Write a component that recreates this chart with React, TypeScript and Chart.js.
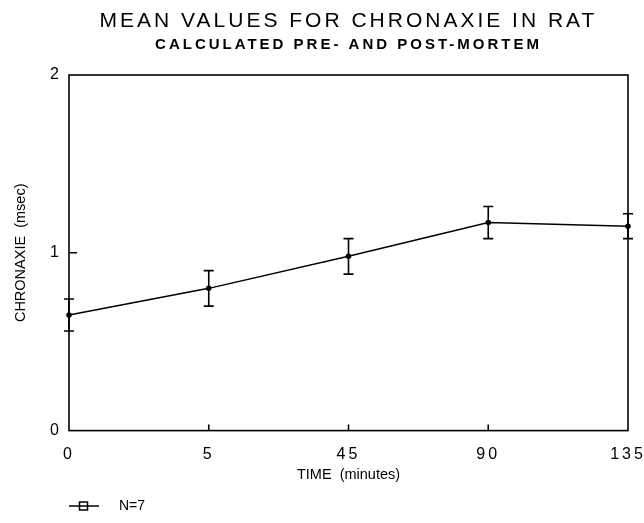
import React, { useEffect, useRef } from "react";
import { Chart, registerables } from "chart.js";

Chart.register(...registerables);

const categories = ["0", "5", "45", "90", "135"];
const meanValues = [0.65, 0.8, 0.98, 1.17, 1.15];
const errorValues = [0.09, 0.1, 0.1, 0.09, 0.07];
const yMin = 0;
const yMax = 2;
const titleText = "MEAN VALUES FOR CHRONAXIE IN RAT";
const subtitleText = "CALCULATED PRE- AND POST-MORTEM";
const xAxisTitle = "TIME  (minutes)";
const yAxisTitle = "CHRONAXIE  (msec)";
const seriesLabel = "N=7";

const FONT = "'Liberation Sans', Arial, sans-serif";
const spacingBySize: Record<string, number> = { "21": 3, "15": 3, "16": 3, "14.5": 0, "14": 0 };

function makeLegendSymbol(): HTMLCanvasElement {
  const c = document.createElement("canvas");
  c.width = 53;
  c.height = 12;
  const ctx = c.getContext("2d")!;
  ctx.strokeStyle = "#000";
  ctx.lineWidth = 1.5;
  ctx.beginPath();
  ctx.moveTo(0, 6);
  ctx.lineTo(31, 6);
  ctx.stroke();
  ctx.fillStyle = "#fff";
  ctx.fillRect(11.5, 2, 8, 8);
  ctx.strokeRect(11.5, 2, 8, 8);
  ctx.beginPath();
  ctx.moveTo(11.5, 6);
  ctx.lineTo(19.5, 6);
  ctx.stroke();
  return c;
}

const spacingPlugin = {
  id: "spacing",
  beforeInit(chart: any) {
    const ctx = chart.ctx;
    if (ctx.__wrapped) return;
    ctx.__wrapped = true;
    const origFill = ctx.fillText.bind(ctx);
    const origMeasure = ctx.measureText.bind(ctx);
    const setSpacing = () => {
      const m = /(\d+(?:\.\d+)?)px/.exec(ctx.font);
      const sp = m ? spacingBySize[m[1]] ?? 0 : 0;
      ctx.letterSpacing = sp + "px";
    };
    ctx.fillText = (t: string, x: number, y: number, mw?: number) => {
      setSpacing();
      if (mw === undefined) origFill(t, x, y);
      else origFill(t, x, y, mw);
    };
    ctx.measureText = (t: string) => {
      setSpacing();
      return origMeasure(t);
    };
  },
};

const framePlugin = {
  id: "frame",
  afterDatasetsDraw(chart: any) {
    const { ctx, chartArea, scales } = chart;
    const xs = scales.x;
    const ys = scales.y;
    ctx.save();
    ctx.strokeStyle = "#000";
    ctx.lineWidth = 1.6;
    ctx.strokeRect(
      chartArea.left,
      chartArea.top,
      chartArea.right - chartArea.left,
      chartArea.bottom - chartArea.top
    );
    ctx.beginPath();
    for (let i = 1; i < categories.length - 1; i++) {
      const x = xs.getPixelForValue(i);
      ctx.moveTo(x, chartArea.bottom);
      ctx.lineTo(x, chartArea.bottom - 6);
    }
    for (let v = yMin + 1; v < yMax; v++) {
      const y = ys.getPixelForValue(v);
      ctx.moveTo(chartArea.left, y);
      ctx.lineTo(chartArea.left + 8, y);
    }
    ctx.stroke();
    ctx.lineWidth = 1.6;
    ctx.beginPath();
    for (let i = 0; i < meanValues.length; i++) {
      const x = xs.getPixelForValue(i);
      const yt = ys.getPixelForValue(meanValues[i] + errorValues[i]);
      const yb = ys.getPixelForValue(meanValues[i] - errorValues[i]);
      ctx.moveTo(x, yt);
      ctx.lineTo(x, yb);
      ctx.moveTo(x - 5, yt);
      ctx.lineTo(x + 5, yt);
      ctx.moveTo(x - 5, yb);
      ctx.lineTo(x + 5, yb);
    }
    ctx.stroke();
    ctx.restore();
  },
};

export default function App() {
  const ref = useRef<HTMLCanvasElement | null>(null);
  useEffect(() => {
    if (!ref.current) return;
    const symbol = makeLegendSymbol();
    const chart: any = new Chart(ref.current, {
      type: "line",
      data: {
        labels: categories,
        datasets: [
          {
            label: seriesLabel,
            data: meanValues,
            borderColor: "#000",
            backgroundColor: "#000",
            borderWidth: 1.5,
            pointRadius: 2,
            pointBackgroundColor: "#000",
            tension: 0,
          },
        ],
      },
      options: {
        animation: false,
        responsive: false,
        maintainAspectRatio: false,
        layout: { padding: { left: 8, right: 16, top: 0, bottom: 0 } },
        font: { family: FONT },
        plugins: {
          title: {
            display: true,
            fullSize: false,
            text: titleText,
            color: "#000",
            font: { family: FONT, size: 21, weight: "normal" },
            padding: { top: 8.4, bottom: 1 },
          },
          subtitle: {
            display: true,
            fullSize: false,
            text: subtitleText,
            color: "#000",
            font: { family: FONT, size: 15, weight: "bold" },
            padding: { top: 1.4, bottom: 21 },
          },
          legend: {
            display: true,
            position: "bottom",
            align: "start",
            fullSize: false,
            labels: {
              usePointStyle: true,
              pointStyleWidth: 35,
              color: "#000",
              font: { family: FONT, size: 14 },
              padding: 8,
              generateLabels: () => [
                {
                  text: seriesLabel,
                  pointStyle: symbol as any,
                  fillStyle: "#fff",
                  strokeStyle: "#000",
                  lineWidth: 1,
                  hidden: false,
                  datasetIndex: 0,
                  fontColor: "#000",
                } as any,
              ],
            },
          },
          tooltip: { enabled: false },
        },
        scales: {
          x: {
            type: "category",
            offset: false,
            grid: { display: false, drawTicks: false },
            border: { display: false },
            ticks: {
              color: "#000",
              font: { family: FONT, size: 16 },
              padding: 14.4,
              maxRotation: 0,
            },
            title: {
              display: true,
              text: xAxisTitle,
              color: "#000",
              font: { family: FONT, size: 14.5 },
              padding: { top: -12, bottom: 7 },
            },
            afterFit(scale: any) {
              scale.paddingRight = 0;
              scale.paddingLeft = 0;
            },
          },
          y: {
            min: yMin,
            max: yMax,
            grid: { display: false, drawTicks: false },
            border: { display: false },
            ticks: {
              stepSize: 1,
              color: "#000",
              font: { family: FONT, size: 16 },
              padding: 7,
            },
            title: {
              display: true,
              text: yAxisTitle,
              color: "#000",
              font: { family: FONT, size: 14.5 },
              padding: { top: 4, bottom: 4 },
            },
            afterFit(scale: any) {
              scale.width = 61;
            },
          },
        },
      },
      plugins: [spacingPlugin, framePlugin],
    });
    return () => chart.destroy();
  }, []);
  return (
    <div style={{ position: "fixed", left: 0, top: 0, width: 644, height: 523, background: "#fff" }}>
      <canvas ref={ref} width={644} height={523} style={{ width: 644, height: 523 }} />
    </div>
  );
}
